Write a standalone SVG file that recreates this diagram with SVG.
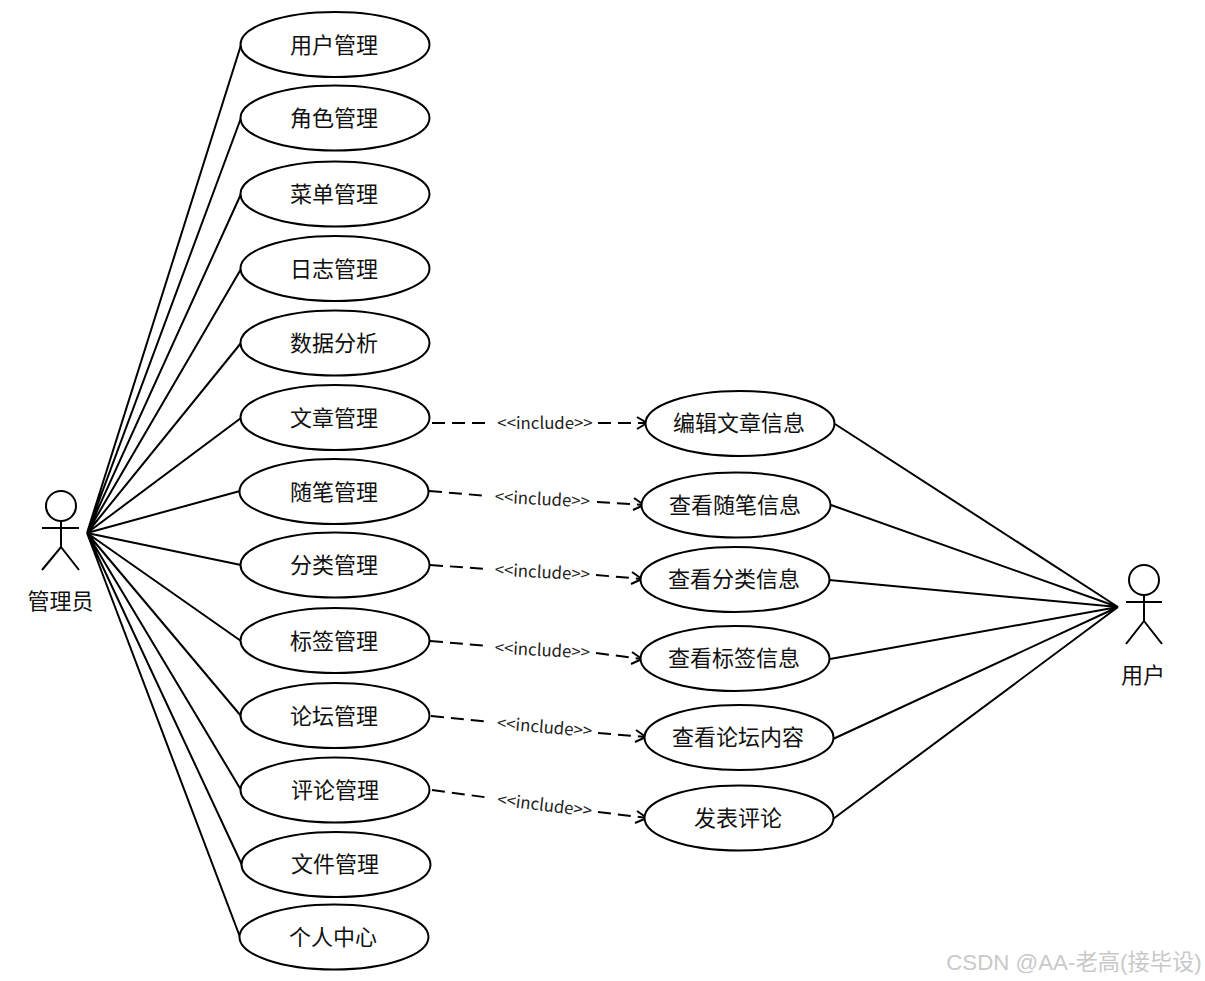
<svg xmlns="http://www.w3.org/2000/svg" width="1205" height="981" viewBox="0 0 1205 981">
<style>
text{font-family:"Noto Sans CJK SC","Noto Sans",sans-serif;text-anchor:middle;fill:#111}
.n{font-size:22px}
.i{font-size:16.800px;fill:#222}
ellipse,circle{fill:#fff;stroke:#000;stroke-width:2}
.l{fill:none;stroke:#000;stroke-width:2}
.d{fill:none;stroke:#000;stroke-width:2;stroke-dasharray:13 7}
.a{fill:none;stroke:#000;stroke-width:2}
</style>
<rect width="1205" height="981" fill="#fff"/>
<g id="connectors">
<path class="l" d="M87 533L241 45M87 533L241 118M87 533L241 194M87 533L241 269M87 533L241 343M87 533L241 418M87 533L240 491M87 533L241 565M87 533L241 641M87 533L241 716M87 533L241 790M87 533L242 865M87 533L240 937"/>
<path class="l" d="M835 424L1118 607M831 505L1118 607M829 580L1118 607M830 659L1118 607M833 739L1118 607M833 819L1118 607"/>
<path class="d" d="M432 423H492M598 423H647"/>
<path class="a" d="M637 417L647 423L637 429"/>
<path class="d" d="M429 491L488 496M597 502L644 505"/>
<path class="a" d="M634 498L644 505L633 510"/>
<path class="d" d="M430 565L488 569M596 575L642 579"/>
<path class="a" d="M632 572L642 579L631 584"/>
<path class="d" d="M430 641L488 646M596 653L642 659"/>
<path class="a" d="M632 652L642 659L631 664"/>
<path class="d" d="M431 716L490 722M598 733L646 737"/>
<path class="a" d="M636 730L646 737L635 742"/>
<path class="d" d="M432 790L491 798M598 812L647 818"/>
<path class="a" d="M637 811L647 818L635 823"/>
<text class="i" transform="translate(545 429)">&lt;&lt;include&gt;&gt;</text>
<text class="i" transform="translate(542 505) rotate(3)">&lt;&lt;include&gt;&gt;</text>
<text class="i" transform="translate(542 578) rotate(3)">&lt;&lt;include&gt;&gt;</text>
<text class="i" transform="translate(542 656) rotate(3)">&lt;&lt;include&gt;&gt;</text>
<text class="i" transform="translate(544 733) rotate(5)">&lt;&lt;include&gt;&gt;</text>
<text class="i" transform="translate(544 811) rotate(7)">&lt;&lt;include&gt;&gt;</text>
</g>
<g id="actor-admin">
<circle cx="61" cy="506" r="15"/>
<path class="l" d="M61 521V547M42 528H79M42 570L61 547L79 570"/>
<text class="n" x="60.500" y="609">管理员</text>
</g>
<g id="actor-user">
<circle cx="1144" cy="580" r="15"/>
<path class="l" d="M1144 595V621M1126 602H1162M1126 644L1144 621L1162 644"/>
<text class="n" x="1143" y="683">用户</text>
</g>
<g id="n1"><ellipse cx="335" cy="44.500" rx="94.500" ry="32.500"/><text class="n" x="334" y="52.500">用户管理</text></g>
<g id="n2"><ellipse cx="335" cy="118" rx="94.500" ry="32.500"/><text class="n" x="334" y="126">角色管理</text></g>
<g id="n3"><ellipse cx="335" cy="194" rx="94.500" ry="32.500"/><text class="n" x="334" y="201.500">菜单管理</text></g>
<g id="n4"><ellipse cx="335" cy="268.500" rx="94.500" ry="32.500"/><text class="n" x="334" y="276.500">日志管理</text></g>
<g id="n5"><ellipse cx="335" cy="343" rx="94.500" ry="32.500"/><text class="n" x="334" y="351">数据分析</text></g>
<g id="n6"><ellipse cx="335" cy="417.500" rx="94.500" ry="32.500"/><text class="n" x="334" y="425.500">文章管理</text></g>
<g id="n7"><ellipse cx="334" cy="491.500" rx="94.500" ry="32.500"/><text class="n" x="334" y="499.500">随笔管理</text></g>
<g id="n8"><ellipse cx="335" cy="565" rx="94.500" ry="32.500"/><text class="n" x="334" y="573">分类管理</text></g>
<g id="n9"><ellipse cx="335" cy="640.500" rx="94.500" ry="32.500"/><text class="n" x="334" y="648.500">标签管理</text></g>
<g id="n10"><ellipse cx="335" cy="715.500" rx="94.500" ry="32.500"/><text class="n" x="334" y="723.500">论坛管理</text></g>
<g id="n11"><ellipse cx="335" cy="790" rx="94.500" ry="32.500"/><text class="n" x="335" y="798">评论管理</text></g>
<g id="n12"><ellipse cx="336" cy="864.500" rx="94.500" ry="32.500"/><text class="n" x="335" y="872">文件管理</text></g>
<g id="n13"><ellipse cx="334" cy="937" rx="94.500" ry="32.500"/><text class="n" x="333" y="945">个人中心</text></g>
<g id="r1"><ellipse cx="740" cy="423.500" rx="94.500" ry="32.500"/><text class="n" x="739" y="431">编辑文章信息</text></g>
<g id="r2"><ellipse cx="736" cy="505" rx="94.500" ry="32.500"/><text class="n" x="735" y="513">查看随笔信息</text></g>
<g id="r3"><ellipse cx="735" cy="579.500" rx="94.500" ry="32.500"/><text class="n" x="734" y="587">查看分类信息</text></g>
<g id="r4"><ellipse cx="735" cy="658.500" rx="94.500" ry="32.500"/><text class="n" x="734" y="666">查看标签信息</text></g>
<g id="r5"><ellipse cx="739" cy="737.500" rx="94.500" ry="32.500"/><text class="n" x="738" y="745">查看论坛内容</text></g>
<g id="r6"><ellipse cx="739" cy="818" rx="94.500" ry="32.500"/><text class="n" x="738" y="825.500">发表评论</text></g>
<text x="1074" y="970" style="font-family:'Liberation Sans','Noto Sans CJK SC',sans-serif;font-size:22.300px;fill:#c9c9c9">CSDN @AA-老高(接毕设)</text>
</svg>
